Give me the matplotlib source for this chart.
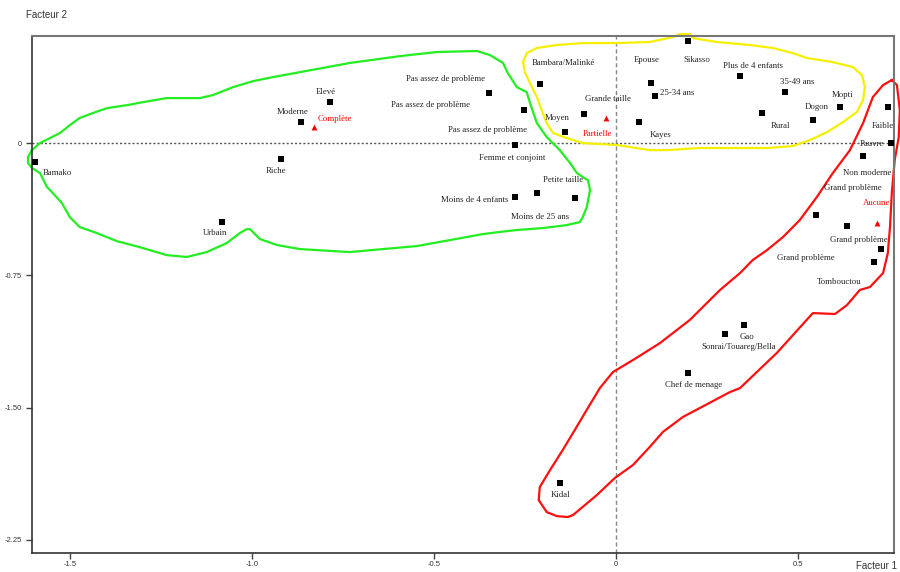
import matplotlib.pyplot as plt

# coordonnees des modalites sur le plan factoriel (facteur 1, facteur 2)
labels = ['Bamako', 'Riche', 'Urbain', 'Elevé', 'Moderne',
          'Pas assez de problème', 'Pas assez de problème', 'Pas assez de problème',
          'Femme et conjoint', 'Petite taille', 'Moins de 25 ans', 'Moins de 4 enfants',
          'Bambara/Malinké', 'Moyen', 'Grande taille', 'Epouse', '25-34 ans', 'Kayes',
          'Sikasso', 'Plus de 4 enfants', '35-49 ans', 'Rural', 'Dogon', 'Mopti',
          'Faible', 'Pauvre', 'Non moderne', 'Grand problème', 'Grand problème',
          'Grand problème', 'Tombouctou', 'Gao', 'Sonrai/Touareg/Bella',
          'Chef de menage', 'Kidal']
f1 = [-1.596, -0.920, -1.082, -0.786, -0.865,
      -0.349, -0.253, -0.277,
      -0.277, -0.217, -0.113, -0.277,
      -0.209, -0.140, -0.088, 0.096, 0.107, 0.063,
      0.198, 0.341, 0.464, 0.401, 0.541, 0.615,
      0.747, 0.755, 0.679, 0.549, 0.635,
      0.728, 0.709, 0.352, 0.299,
      0.198, -0.154]
f2 = [-0.108, -0.091, -0.448, 0.232, 0.119,
      0.283, 0.187, -0.011,
      -0.011, -0.283, -0.312, -0.306,
      0.334, 0.062, 0.164, 0.340, 0.266, 0.119,
      0.578, 0.380, 0.289, 0.170, 0.130, 0.204,
      0.204, 0.000, -0.074, -0.408, -0.471,
      -0.601, -0.675, -1.032, -1.083,
      -1.304, -1.927]

# modalites de la variable active (triangles rouges)
act_labels = ['Complète', 'Partielle', 'Aucune']
act_f1 = [-0.830, -0.027, 0.717]
act_f2 = [0.091, 0.142, -0.454]

# decalage des etiquettes (pixels, vers la droite / vers le bas)
lab_off = [(22, 11), (-5, 12), (-7, 11), (-4, -10), (-8, -10),
           (-43, -14), (-93, -5), (-28, -15),
           (-3, 13), (26, -13), (-35, 19), (-40, 3),
           (24, -21), (-8, -14), (24, -15), (-4, -23), (22, -3), (22, 13),
           (9, 19), (13, -10), (12, -10), (19, 13), (4, -13), (3, -12),
           (-5, 19), (-19, 1), (4, 17), (37, -27), (12, 14),
           (-75, 9), (-35, 20), (3, 12), (14, 13),
           (6, 12), (1, 12)]
act_off = [(21, -8), (-9, 16), (0, -20)]

# contours traces a la main autour des groupes
green_x = [-1.604, -1.582, -1.555, -1.527, -1.500, -1.473, -1.437, -1.398, -1.343, -1.299,
           -1.234, -1.143, -1.107, -1.052, -0.997, -0.942, -0.868, -0.731, -0.593, -0.492,
           -0.382, -0.346, -0.310, -0.297, -0.272, -0.245, -0.236, -0.217, -0.190, -0.154,
           -0.126, -0.107, -0.091, -0.077, -0.071, -0.080, -0.091, -0.099, -0.135, -0.201,
           -0.272, -0.324, -0.365, -0.456, -0.547, -0.640, -0.731, -0.868, -0.931, -0.978,
           -1.005, -1.014, -1.033, -1.069, -1.124, -1.179, -1.234, -1.308, -1.371, -1.426,
           -1.473, -1.500, -1.522, -1.547, -1.563, -1.582, -1.604, -1.615, -1.615, -1.604]
green_y = [-0.040, 0.000, 0.028, 0.057, 0.102, 0.142, 0.170, 0.198, 0.215, 0.232,
           0.255, 0.255, 0.272, 0.317, 0.351, 0.374, 0.402, 0.454, 0.493, 0.516,
           0.522, 0.499, 0.454, 0.397, 0.317, 0.289, 0.227, 0.113, 0.034, -0.040,
           -0.113, -0.170, -0.193, -0.210, -0.266, -0.363, -0.420, -0.448, -0.465, -0.482,
           -0.493, -0.505, -0.516, -0.550, -0.584, -0.601, -0.618, -0.601, -0.578, -0.544,
           -0.488, -0.488, -0.510, -0.567, -0.618, -0.646, -0.635, -0.590, -0.556, -0.510,
           -0.476, -0.420, -0.340, -0.283, -0.249, -0.170, -0.142, -0.113, -0.079, -0.040]

yellow_x = [-0.255, -0.245, -0.217, -0.162, -0.091, 0.003, 0.093, 0.157, 0.176, 0.203,
            0.212, 0.277, 0.368, 0.431, 0.486, 0.525, 0.596, 0.651, 0.676, 0.684,
            0.679, 0.662, 0.624, 0.580, 0.533, 0.486, 0.415, 0.321, 0.231, 0.140,
            0.093, 0.003, -0.091, -0.135, -0.173, -0.190, -0.201, -0.217, -0.236, -0.250,
            -0.255]
yellow_y = [0.459, 0.510, 0.539, 0.556, 0.567, 0.567, 0.573, 0.601, 0.618, 0.618,
            0.595, 0.573, 0.556, 0.539, 0.510, 0.482, 0.459, 0.431, 0.385, 0.317,
            0.244, 0.176, 0.119, 0.062, 0.017, -0.017, -0.028, -0.028, -0.028, -0.040,
            -0.040, -0.011, 0.000, 0.028, 0.057, 0.113, 0.170, 0.261, 0.340, 0.402,
            0.459]

red_x = [0.758, 0.734, 0.706, 0.679, 0.643, 0.596, 0.552, 0.505, 0.459, 0.415,
         0.376, 0.341, 0.286, 0.203, 0.121, 0.047, -0.008, -0.044, -0.077, -0.113,
         -0.146, -0.181, -0.209, -0.212, -0.190, -0.162, -0.132, -0.118, -0.052, -0.003,
         0.047, 0.093, 0.129, 0.184, 0.313, 0.341, 0.442, 0.541, 0.602, 0.635,
         0.670, 0.698, 0.734, 0.747, 0.753, 0.758, 0.766, 0.777, 0.780, 0.772, 0.758]
red_y = [0.357, 0.329, 0.261, 0.113, -0.040, -0.170, -0.306, -0.437, -0.533, -0.607,
         -0.663, -0.737, -0.833, -1.003, -1.134, -1.230, -1.298, -1.389, -1.502, -1.627,
         -1.740, -1.854, -1.950, -2.024, -2.092, -2.115, -2.120, -2.109, -1.995, -1.899,
         -1.825, -1.723, -1.638, -1.553, -1.412, -1.389, -1.190, -0.964, -0.969, -0.918,
         -0.833, -0.816, -0.737, -0.624, -0.476, -0.283, -0.096, 0.034, 0.187, 0.329, 0.357]

xticks = [-1.5, -1.0, -0.5, 0.0, 0.5]
xticklabels = ['-1.5', '-1.0', '-0.5', '0', '0.5']
yticks = [0.0, -0.75, -1.50, -2.25]
yticklabels = ['0', '-0.75', '-1.50', '-2.25']

sans = ['Liberation Sans', 'DejaVu Sans']
serif = ['Liberation Serif', 'DejaVu Serif']

fig = plt.figure(figsize=(9, 5.72), dpi=100)
ax = fig.add_axes([32 / 900, 1 - 553 / 572, (894 - 32) / 900, (553 - 36) / 572])
ax.set_xlim(-1.604, 0.764)
ax.set_ylim(-2.324, 0.607)

ax.axhline(0, color='#555555', lw=1, ls=(0, (1.5, 1.5)), zorder=1)
ax.axvline(0, color='#888888', lw=1, ls=(0, (3, 2)), zorder=1)

ax.plot(green_x, green_y, color='#22ee22', lw=1.6, clip_on=False, zorder=2)
ax.plot(yellow_x, yellow_y, color='#f5f000', lw=1.6, clip_on=False, zorder=2)
ax.plot(red_x, red_y, color='#ff0f0f', lw=1.6, clip_on=False, zorder=2)

ax.scatter(f1, f2, marker='s', s=14, color='black', linewidths=0, zorder=3)
ax.scatter(act_f1, act_f2, marker='^', s=18, color='red', linewidths=0, zorder=3)

for name, x, y, (dx, dy) in zip(labels, f1, f2, lab_off):
    ax.annotate(name, (x, y), xytext=(dx, -dy), textcoords='offset pixels',
                ha='center', va='center', fontsize=6.3, family=serif,
                color='#222222', zorder=4)
for name, x, y, (dx, dy) in zip(act_labels, act_f1, act_f2, act_off):
    ax.annotate(name, (x, y), xytext=(dx, -dy), textcoords='offset pixels',
                ha='center', va='center', fontsize=6.3, family=serif,
                color='red', zorder=4)

ax.set_xticks(xticks)
ax.set_xticklabels(xticklabels, family=sans, fontsize=5.5, color='#333333')
ax.set_yticks(yticks)
ax.set_yticklabels(yticklabels, family=sans, fontsize=5.5, color='#333333')
ax.tick_params(axis='both', length=4, width=1, color='#444444')
ax.tick_params(axis='x', pad=2)
ax.tick_params(axis='y', pad=3)

for side in ['left', 'bottom']:
    ax.spines[side].set_color('#333333')
    ax.spines[side].set_linewidth(1.2)
for side in ['top', 'right']:
    ax.spines[side].set_color('#777777')
    ax.spines[side].set_linewidth(1.5)

fig.text(47 / 900, 1 - 15 / 572, 'Facteur 2', ha='center', va='center',
         family=sans, fontsize=7, color='#333333')
fig.text(897 / 900, 1 - 566 / 572, 'Facteur 1', ha='right', va='center',
         family=sans, fontsize=7, color='#333333')

fig.savefig('out.png', dpi=100)
